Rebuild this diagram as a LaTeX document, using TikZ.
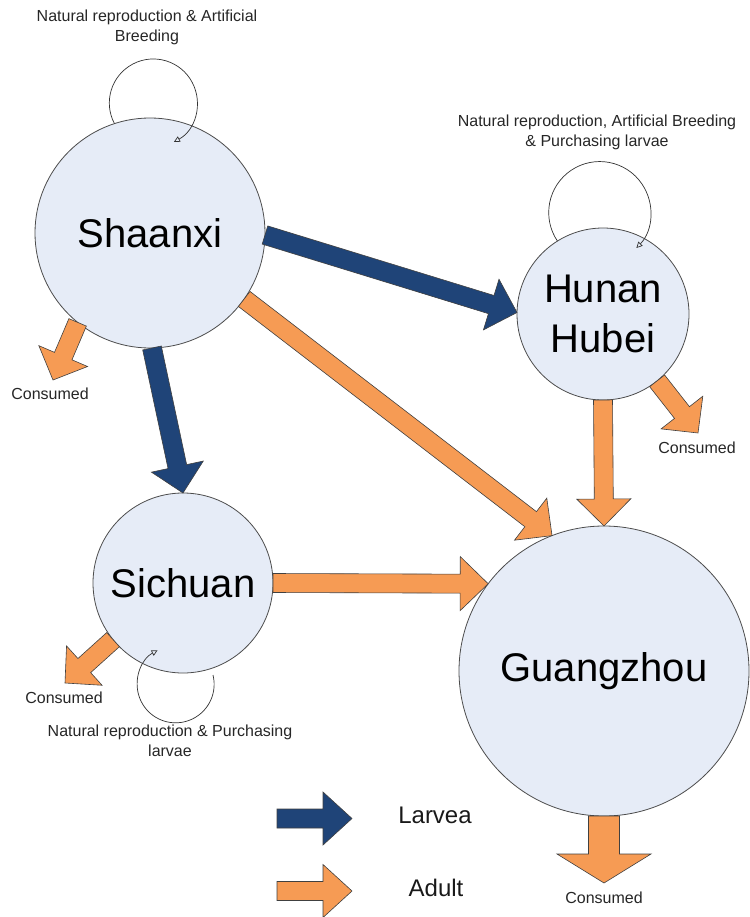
\documentclass[tikz,border=0pt]{standalone}
\usepackage{fontspec}
\setmainfont{Liberation Sans}
\usetikzlibrary{calc,arrows.meta}

\definecolor{larvablue}{RGB}{31,68,120}
\definecolor{adultorange}{RGB}{246,155,84}
\definecolor{regionfill}{RGB}{230,236,247}

\tikzset{
  region/.style={circle, draw=black!70, fill=regionfill, line width=0.8pt,
    inner sep=0pt, outer sep=0pt, align=center, font=\fontsize{40}{50}\selectfont},
  larvaarrow/.style={fill=larvablue, draw=black!75, line width=0.6pt},
  adultarrow/.style={fill=adultorange, draw=black!75, line width=0.6pt},
  selfloop/.style={draw=black!80, line width=0.7pt, -{Triangle[open,length=6pt,width=6pt]}},
  note/.style={align=center, text=black!85, font=\fontsize{16}{20}\selectfont},
  keytext/.style={text=black!90, font=\fontsize{24}{28}\selectfont}
}

% block arrow: style, tail, tip, half shaft, half head, head length
\newcommand{\blockarrow}[6]{%
  \coordinate (hb) at ($(#3)!#6!(#2)$);
  \draw[#1] ($(#2)!#4!90:(#3)$) -- ($(hb)!#4!-90:(#2)$) -- ($(hb)!#5!-90:(#2)$)
    -- (#3) -- ($(hb)!#5!90:(#2)$) -- ($(hb)!#4!90:(#2)$) -- ($(#2)!#4!-90:(#3)$) -- cycle;
}

\begin{document}
\begin{tikzpicture}[x=1pt,y=-1pt]
  \useasboundingbox (0,0) rectangle (749,917);

  % regions
  \node[region, minimum size=230pt] (shaanxi) at (150,233) {Shaanxi};
  \node[region, minimum size=172pt] (hunan) at (603,314) {Hunan\\Hubei};
  \node[region, minimum size=180pt] (sichuan) at (183,583) {Sichuan};
  \node[region, minimum size=290pt] (guangzhou) at (604,671) {Guangzhou};

  % texts
  \node[note] (shaanxiloop) at (147,27) {Natural reproduction \& Artificial\\Breeding};
  \node[note] (hunanloop) at (597,132) {Natural reproduction, Artificial Breeding\\\& Purchasing larvae};
  \node[note] (sichuanloop) at (170,741) {Natural reproduction \& Purchasing\\larvae};
  \node[note] (shaanxicons) at (50,394) {Consumed};
  \node[note] (hunancons) at (697,448) {Consumed};
  \node[note] (sichuancons) at (64,698) {Consumed};
  \node[note] (guangzhoucons) at (604,898) {Consumed};
  \node[keytext] (larvalabel) at (435,815) {Larvea};
  \node[keytext] (adultlabel) at (436,888) {Adult};

  % free ends
  \coordinate (shaanxiout) at (53,380);
  \coordinate (hunanout) at (698,433);
  \coordinate (sichuanout) at (65,683);
  \coordinate (guangzhouout) at (604,883);
  \coordinate (larvakey) at (277,818.5);
  \coordinate (larvakeytip) at (352,818.5);
  \coordinate (adultkey) at (277,891);
  \coordinate (adultkeytip) at (352,891);

  % larvae
  \blockarrow{larvaarrow}{shaanxi.-1}{hunan.179}{9.5pt}{26.5pt}{27pt}
  \blockarrow{larvaarrow}{shaanxi.-89}{sichuan.90}{9.5pt}{26.5pt}{27pt}

  % adults
  \blockarrow{adultarrow}{shaanxi.-35}{guangzhou.111}{9.5pt}{26.5pt}{27pt}
  \blockarrow{adultarrow}{sichuan.0}{guangzhou.143}{9.5pt}{27pt}{28pt}
  \blockarrow{adultarrow}{hunan.-90}{guangzhou.90}{9.5pt}{27pt}{27pt}

  % consumed
  \blockarrow{adultarrow}{shaanxi.231}{shaanxiout}{9.5pt}{26.5pt}{26pt}
  \blockarrow{adultarrow}{hunan.-51.5}{hunanout}{9.5pt}{26.5pt}{26pt}
  \blockarrow{adultarrow}{sichuan.219}{sichuanout}{9.5pt}{26.5pt}{26pt}
  \blockarrow{adultarrow}{guangzhou.-90}{guangzhouout}{15.5pt}{47pt}{29pt}

  % self loops
  \draw[selfloop] (shaanxi.108) arc[start angle=208, end angle=-62, radius=44pt];
  \draw[selfloop] (hunan.122) arc[start angle=214, end angle=-44, radius=51pt];
  \draw[selfloop] ($(sichuan.center)+(30,92)$) arc[start angle=14, end angle=-242, radius=38.5pt];

  % key
  \blockarrow{larvaarrow}{larvakey}{larvakeytip}{9.5pt}{26.5pt}{29pt}
  \blockarrow{adultarrow}{adultkey}{adultkeytip}{9.5pt}{26.5pt}{29pt}
\end{tikzpicture}
\end{document}
